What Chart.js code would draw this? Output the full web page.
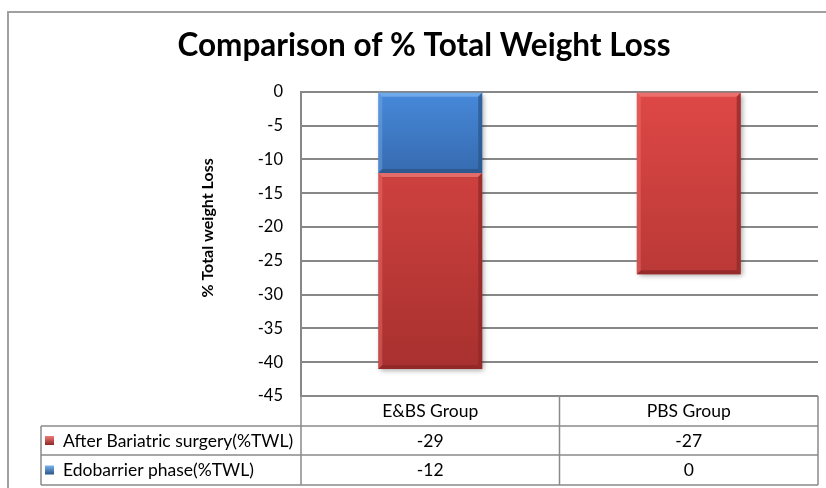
<!DOCTYPE html>
<html>
<head>
<meta charset="utf-8">
<script src="https://cdn.jsdelivr.net/npm/chart.js@4.4.1/dist/chart.umd.min.js"></script>
<style>
  body { margin: 0; background: #fff; }
  #wrap { width: 826px; height: 488px; position: relative; }
</style>
</head>
<body>
<div id="wrap"><canvas id="myChart"></canvas></div>
<script>
var categories = ['E&BS Group', 'PBS Group'];
var seriesNames = ['After Bariatric surgery(%TWL)', 'Edobarrier phase(%TWL)'];
var afterSurgery = [-29, -27];
var endobarrier = [-12, 0];
var yTicks = [0, -5, -10, -15, -20, -25, -30, -35, -40, -45];

var red = { main: '#d84341', light: '#ef7a77', dark: '#8d2826', stops: [[0, '#de4846'], [1, '#a22e2c']] };
var blue = { main: '#3f7dcc', light: '#79b2ee', dark: '#2a5588', stops: [[0, '#4789da'], [0.3, '#3467aa']] };
var fontName = 'Lato, "Open Sans", sans-serif';

function barFill(style) {
  return function (context) {
    var area = context.chart.chartArea;
    if (!area) return style.main;
    var g = context.chart.ctx.createLinearGradient(0, area.top, 0, area.bottom);
    style.stops.forEach(function (s) { g.addColorStop(s[0], s[1]); });
    return g;
  };
}

var frame = {
  id: 'frame',
  beforeDraw: function (chart) {
    var c = chart.ctx;
    c.save();
    c.fillStyle = '#fff';
    c.fillRect(0, 0, chart.width, chart.height);
    c.strokeStyle = '#a0a0a0';
    c.lineWidth = 2;
    c.strokeRect(8, 12, chart.width + 10, chart.height + 10);
    c.restore();
  }
};

var bevel = {
  id: 'bevel',
  beforeDatasetsDraw: function (chart) {
    var c = chart.ctx;
    c.save();
    c.shadowColor = 'rgba(0,0,0,0.35)';
    c.shadowBlur = 5;
    c.shadowOffsetX = 2;
    c.shadowOffsetY = 2;
  },
  afterDatasetsDraw: function (chart) {
    var c = chart.ctx;
    c.restore();
    chart.data.datasets.forEach(function (ds, di) {
      var st = ds.bevel;
      chart.getDatasetMeta(di).data.forEach(function (bar) {
        var p = bar.getProps(['x', 'y', 'base', 'width']);
        var t = Math.min(p.y, p.base), b = Math.max(p.y, p.base);
        var l = p.x - p.width / 2, r = p.x + p.width / 2, k = 4;
        if (b - t < 2) return;
        function quad(pts, col) {
          c.beginPath();
          c.moveTo(pts[0], pts[1]);
          for (var i = 2; i < pts.length; i += 2) c.lineTo(pts[i], pts[i + 1]);
          c.closePath();
          c.fillStyle = col;
          c.fill();
        }
        c.save();
        c.globalAlpha = 0.8;
        quad([l, t, r, t, r - k, t + k, l + k, t + k], st.light);
        quad([l, b, r, b, r - k, b - k, l + k, b - k], st.dark);
        c.globalAlpha = 0.4;
        quad([l, t, l + k, t + k, l + k, b - k, l, b], st.light);
        c.globalAlpha = 0.7;
        quad([r, t, r - k, t + k, r - k, b - k, r, b], st.dark);
        c.restore();
      });
    });
  }
};

var dataTable = {
  id: 'dataTable',
  afterDraw: function (chart) {
    var c = chart.ctx, a = chart.chartArea, xs = chart.scales.x;
    var colW = (a.right - a.left) / categories.length;
    var labelLeft = 41;
    var rows = [a.bottom, a.bottom + 30, a.bottom + 59, a.bottom + 89];
    var rowData = [afterSurgery, endobarrier];
    var rowStyle = [red, blue];
    c.save();
    c.strokeStyle = '#8a8a8a';
    c.lineWidth = 1.5;
    c.beginPath();
    c.moveTo(a.left, rows[0]); c.lineTo(a.right, rows[0]);
    for (var i = 1; i < rows.length; i++) {
      c.moveTo(labelLeft, rows[i]); c.lineTo(a.right, rows[i]);
    }
    c.moveTo(labelLeft, rows[1]); c.lineTo(labelLeft, rows[3]);
    for (var j = 0; j <= categories.length; j++) {
      var vx = a.left + j * colW;
      c.moveTo(vx, rows[0]); c.lineTo(vx, rows[3]);
    }
    c.stroke();

    c.fillStyle = '#000';
    c.font = '17.5px ' + fontName;
    c.textBaseline = 'middle';
    c.textAlign = 'center';
    categories.forEach(function (cat, ci) {
      c.fillText(cat, xs.getPixelForValue(ci), (rows[0] + rows[1]) / 2);
    });
    rowData.forEach(function (vals, ri) {
      var cy = (rows[ri + 1] + rows[ri + 2]) / 2;
      var st = rowStyle[ri];
      var g = c.createLinearGradient(0, cy - 4.5, 0, cy + 4.5);
      g.addColorStop(0, st.light);
      g.addColorStop(1, st.dark);
      c.fillStyle = g;
      c.fillRect(45, cy - 4.5, 9, 9);
      c.fillStyle = '#000';
      c.textAlign = 'left';
      c.fillText(seriesNames[ri], 63, cy + 0.5);
      c.textAlign = 'center';
      vals.forEach(function (v, ci) {
        c.fillText(String(v), xs.getPixelForValue(ci), cy + 0.5);
      });
    });
    c.restore();
  }
};

var ctx = document.getElementById('myChart');

new Chart(ctx, {
  type: 'bar',
  data: {
    labels: categories,
    datasets: [{
      label: seriesNames[1],
      data: endobarrier,
      backgroundColor: barFill(blue),
      bevel: blue,
      borderWidth: 0
    }, {
      label: seriesNames[0],
      data: afterSurgery,
      backgroundColor: barFill(red),
      bevel: red,
      borderWidth: 0
    }]
  },
  options: {
    responsive: true,
    maintainAspectRatio: false,
    animation: false,
    layout: { padding: { top: 12, left: 30, right: 8, bottom: 92 } },
    datasets: { bar: { categoryPercentage: 1, barPercentage: 0.402 } },
    plugins: {
      legend: { display: false },
      tooltip: { enabled: false },
      title: {
        display: true,
        text: 'Comparison of % Total Weight Loss',
        color: '#000',
        font: { family: fontName, size: 31.5, weight: 'bold' },
        padding: { top: 15, bottom: 27 }
      }
    },
    scales: {
      x: {
        display: false,
        stacked: true
      },
      y: {
        stacked: true,
        min: yTicks[yTicks.length - 1],
        max: yTicks[0],
        afterFit: function (scale) { scale.width = 271; },
        afterBuildTicks: function (scale) {
          scale.ticks = yTicks.map(function (v) { return { value: v }; });
        },
        ticks: {
          color: '#000',
          padding: 18,
          font: { family: fontName, size: 16.5 }
        },
        grid: { color: '#878787', lineWidth: 2, drawTicks: false },
        border: { color: '#878787', width: 2 },
        title: {
          display: true,
          text: '\u2003\u2003\u2002% Total weight Loss',
          color: '#000',
          font: { family: fontName, size: 16, weight: 'bold' },
          padding: { top: 168, bottom: 0 }
        }
      }
    }
  },
  plugins: [frame, bevel, dataTable]
});
</script>
</body>
</html>
